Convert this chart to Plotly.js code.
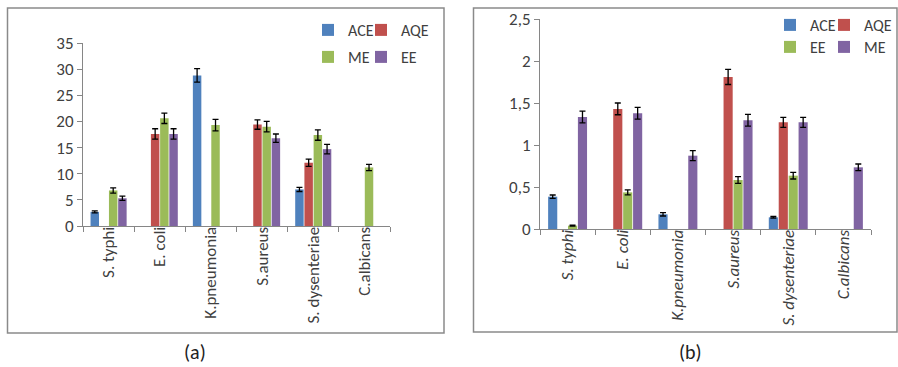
<!DOCTYPE html>
<html>
<head>
<meta charset="utf-8">
<script src="https://cdn.plot.ly/plotly-3.0.1.min.js"></script>
<style>html,body{margin:0;padding:0;background:#fff;}#chart{width:898px;height:367px;}</style>
</head>
<body>
<div id="chart"></div>
<script>
// ---- Data ----
var categories = ["S. typhi", "E. coli", "K.pneumonia", "S.aureus", "S. dysenteriae", "C.albicans"];
var categoriesB = ["S. typhi", "E. coli", "K.pneumonia", "S.aureus", "S. dysenteriae", "C.albicans"];

// Panel (a)
var aACE = [2.7, null, 28.8, null, 7.0, null];
var aAQE = [null, 17.6, null, 19.4, 12.1, null];
var aME  = [6.8, 20.6, 19.3, 19.0, 17.4, 11.2];
var aEE  = [5.3, 17.6, null, 16.8, 14.7, null];
var aACEerr = [0.2, 0, 1.3, 0, 0.4, 0];
var aAQEerr = [0, 1.0, 0, 0.9, 0.7, 0];
var aMEerr  = [0.5, 1.0, 1.1, 1.0, 1.0, 0.6];
var aEEerr  = [0.4, 1.0, 0, 0.8, 0.9, 0];

// Panel (b)
var bACE = [0.385, null, 0.175, null, 0.139, null];
var bAQE = [null, 1.43, null, 1.81, 1.27, null];
var bEE  = [0.04, 0.436, null, 0.583, 0.635, null];
var bME  = [1.333, 1.377, 0.873, 1.294, 1.27, 0.734];
var bACEerr = [0.02, 0, 0.02, 0, 0.01, 0];
var bAQEerr = [0, 0.07, 0, 0.09, 0.06, 0];
var bEEerr  = [0.005, 0.03, 0, 0.04, 0.04, 0];
var bMEerr  = [0.07, 0.07, 0.06, 0.07, 0.06, 0.04];

var seriesA = ["ACE", "AQE", "ME", "EE"];
var seriesB = ["ACE", "AQE", "EE", "ME"];

var C_BLUE = "#4F81BD", C_RED = "#C0504D", C_GREEN = "#9BBB59", C_PURPLE = "#8064A2";
var FONT = "Carlito, Lato, sans-serif";
var TXT = "#404040";
var AXC = "#868686";

function px(x) { return x / 898; }
function py(y) { return 1 - y / 367; }

function bar(name, x, y, err, color, xa, ya, leg) {
  return {
    type: "bar", name: name, x: x, y: y,
    xaxis: xa, yaxis: ya, legend: leg,
    marker: {color: color, line: {width: 0}},
    error_y: {type: "data", array: err, visible: true, color: "#000", thickness: 1.3, width: 3},
    hoverinfo: "x+y+name"
  };
}

var data = [
  bar(seriesA[0], categories, aACE, aACEerr, C_BLUE, "x", "y", "legend"),
  bar(seriesA[1], categories, aAQE, aAQEerr, C_RED, "x", "y", "legend2"),
  bar(seriesA[2], categories, aME, aMEerr, C_GREEN, "x", "y", "legend3"),
  bar(seriesA[3], categories, aEE, aEEerr, C_PURPLE, "x", "y", "legend4"),
  bar(seriesB[0], categoriesB, bACE, bACEerr, C_BLUE, "x2", "y2", "legend5"),
  bar(seriesB[1], categoriesB, bAQE, bAQEerr, C_RED, "x2", "y2", "legend6"),
  bar(seriesB[2], categoriesB, bEE, bEEerr, C_GREEN, "x2", "y2", "legend7"),
  bar(seriesB[3], categoriesB, bME, bMEerr, C_PURPLE, "x2", "y2", "legend8")
];

function leg(textX, cy) {
  return {
    x: px(textX - 40), y: py(cy), xanchor: "left", yanchor: "middle",
    xref: "paper", yref: "paper",
    bgcolor: "rgba(0,0,0,0)", borderwidth: 0,
    font: {family: FONT, size: 16, color: TXT},
    itemclick: false, itemdoubleclick: false
  };
}

var xAxisCommon = {
  type: "category", showline: true, linecolor: AXC, linewidth: 1,
  ticks: "outside", tickson: "boundaries", ticklen: 5, tickcolor: AXC,
  tickangle: -90, ticklabelstandoff: -7,
  showgrid: false, zeroline: false, fixedrange: true
};

var layout = {
  width: 898, height: 367,
  margin: {l: 0, r: 0, t: 0, b: 0},
  paper_bgcolor: "#fff", plot_bgcolor: "rgba(0,0,0,0)",
  separators: ",.",
  barmode: "group", bargap: 0.28, bargroupgap: 0.08,
  font: {family: FONT, size: 16, color: TXT},
  showlegend: true,
  xaxis: Object.assign({}, xAxisCommon, {
    domain: [px(83), px(390)], anchor: "y",
    tickfont: {family: FONT, size: 17, color: TXT}
  }),
  yaxis: {
    domain: [py(226), py(43)], anchor: "x", range: [0, 35], dtick: 5,
    showline: true, linecolor: AXC, linewidth: 1,
    ticks: "outside", ticklen: 5, tickcolor: AXC,
    showgrid: false, zeroline: false, fixedrange: true,
    tickfont: {family: FONT, size: 17, color: TXT}
  },
  xaxis2: Object.assign({}, xAxisCommon, {
    domain: [px(540), px(871)], anchor: "y2",
    tickfont: {family: FONT, size: 17, color: TXT, style: "italic"}
  }),
  yaxis2: {
    domain: [py(229), py(19)], anchor: "x2", range: [0, 2.5], dtick: 0.5,
    showline: true, linecolor: AXC, linewidth: 1,
    ticks: "outside", ticklen: 5, tickcolor: AXC,
    showgrid: false, zeroline: false, fixedrange: true,
    tickfont: {family: FONT, size: 17, color: TXT}
  },
  legend: leg(348, 30),
  legend2: leg(401, 30),
  legend3: leg(348, 57),
  legend4: leg(401, 57),
  legend5: leg(810, 25),
  legend6: leg(864, 25),
  legend7: leg(810, 47),
  legend8: leg(864, 47),
  shapes: [
    {type: "rect", xref: "paper", yref: "paper", x0: px(7.5), x1: px(444), y0: py(333), y1: py(8),
     line: {color: "#8a8a8a", width: 1.5}, fillcolor: "rgba(0,0,0,0)", layer: "below"},
    {type: "rect", xref: "paper", yref: "paper", x0: px(473.5), x1: px(897), y0: py(332), y1: py(8),
     line: {color: "#8a8a8a", width: 1.5}, fillcolor: "rgba(0,0,0,0)", layer: "below"}
  ],
  annotations: [
    {text: "(a)", xref: "paper", yref: "paper", x: px(195), y: py(352), xanchor: "center", yanchor: "middle",
     showarrow: false, font: {family: FONT, size: 20, color: "#222"}},
    {text: "(b)", xref: "paper", yref: "paper", x: px(690), y: py(352), xanchor: "center", yanchor: "middle",
     showarrow: false, font: {family: FONT, size: 20, color: "#222"}}
  ]
};

Plotly.newPlot("chart", data, layout, {staticPlot: true, displayModeBar: false});
</script>
</body>
</html>
